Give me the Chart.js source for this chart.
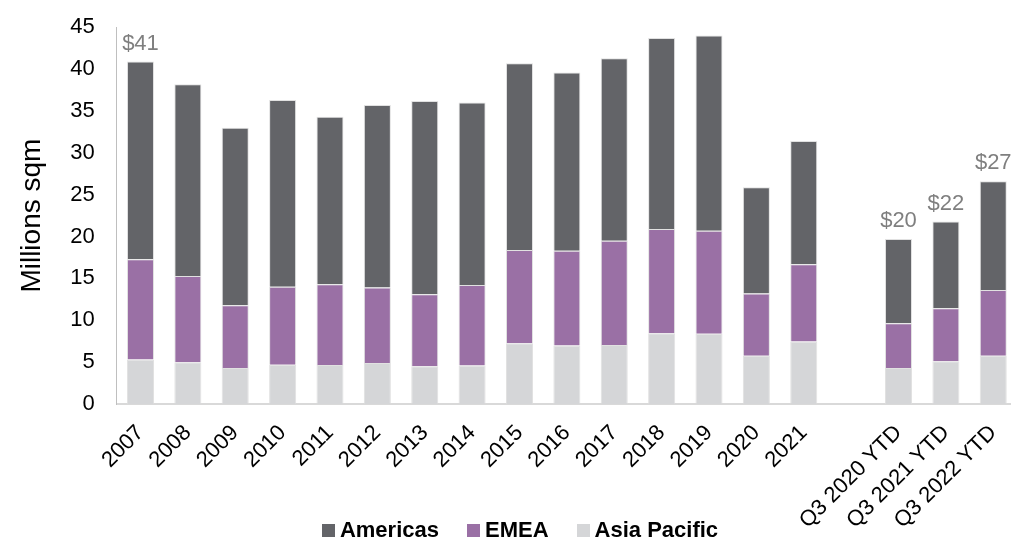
<!DOCTYPE html>
<html>
<head>
<meta charset="utf-8">
<script src="https://cdn.jsdelivr.net/npm/chart.js@4.4.1/dist/chart.umd.min.js"></script>
<style>
  html, body { margin: 0; padding: 0; background: #ffffff; overflow: hidden; }
  #wrap { position: relative; width: 1020px; height: 542px; }
  #legend {
    position: absolute; left: 0; top: 518px; width: 1040px;
    display: flex; justify-content: center; align-items: center;
    font: bold 22px "Liberation Sans", Arial, sans-serif; color: #000;
    line-height: 24px;
  }
  #legend .item { display: flex; align-items: center; margin: 0 14px; }
  #legend .box { width: 13px; height: 13px; margin-right: 5px; }
</style>
</head>
<body>
<div id="wrap">
  <canvas id="chart"></canvas>
  <div id="legend"></div>
</div>
<script>
// Leasing volume by region, millions of square metres
const categories = ['2007', '2008', '2009', '2010', '2011', '2012', '2013', '2014',
  '2015', '2016', '2017', '2018', '2019', '2020', '2021', '',
  'Q3 2020 YTD', 'Q3 2021 YTD', 'Q3 2022 YTD'];

const asiaPacific = [5.3, 5.0, 4.3, 4.7, 4.65, 4.9, 4.5, 4.6, 7.25, 7.0, 7.05, 8.45, 8.4,
  5.75, 7.45, null, 4.3, 5.1, 5.75];
const emea = [12.0, 10.3, 7.5, 9.3, 9.65, 9.0, 8.6, 9.6, 11.15, 11.3, 12.45, 12.45, 12.3,
  7.45, 9.25, null, 5.35, 6.35, 7.85];
const americas = [23.6, 22.9, 21.2, 22.3, 20.0, 21.8, 23.1, 21.8, 22.3, 21.3, 21.8, 22.8, 23.3,
  12.7, 14.7, null, 10.05, 10.35, 13.0];

// Columns that carry a total label above the stack
const labelledColumns = ['2007', 'Q3 2020 YTD', 'Q3 2021 YTD', 'Q3 2022 YTD'];

const yTicks = [0, 5, 10, 15, 20, 25, 30, 35, 40, 45];

const COLORS = { americas: '#636468', emea: '#9a70a5', asia: '#d5d6d8' };
const FONT = '"Liberation Sans", Arial, sans-serif';

const totalLabels = {
  id: 'totalLabels',
  afterDatasetsDraw(chart) {
    const ctx = chart.ctx;
    const topMeta = chart.getDatasetMeta(chart.data.datasets.length - 1);
    ctx.save();
    ctx.font = '22px ' + FONT;
    ctx.fillStyle = '#7f7f7f';
    ctx.textAlign = 'center';
    ctx.textBaseline = 'middle';
    categories.forEach((cat, i) => {
      if (!labelledColumns.includes(cat)) return;
      const total = asiaPacific[i] + emea[i] + americas[i];
      const bar = topMeta.data[i];
      ctx.fillText('$' + Math.round(total), bar.x, bar.y - 18);
    });
    ctx.restore();
  }
};

const chart = new Chart(document.getElementById('chart'), {
  type: 'bar',
  data: {
    labels: categories,
    datasets: [
      { label: 'Asia Pacific', data: asiaPacific, backgroundColor: COLORS.asia },
      { label: 'EMEA', data: emea, backgroundColor: COLORS.emea },
      { label: 'Americas', data: americas, backgroundColor: COLORS.americas }
    ].map(d => Object.assign(d, {
      borderColor: 'rgba(220,220,220,0.85)',
      borderWidth: 1,
      barPercentage: 0.57,
      categoryPercentage: 1
    }))
  },
  options: {
    responsive: true,
    maintainAspectRatio: false,
    devicePixelRatio: 1,
    animation: false,
    layout: { padding: { top: 12, right: 3, left: 0, bottom: 0 } },
    plugins: {
      legend: { display: false },
      tooltip: { enabled: false }
    },
    scales: {
      x: {
        stacked: true,
        offset: true,
        grid: { display: false },
        border: { display: true, color: '#d9d9d9', width: 2 },
        ticks: {
          autoSkip: false,
          minRotation: 45,
          maxRotation: 45,
          padding: 8,
          color: '#000',
          font: { family: FONT, size: 22 }
        },
        afterFit(scale) { scale.height = 138; }
      },
      y: {
        stacked: true,
        min: 0,
        max: 45,
        afterBuildTicks(scale) { scale.ticks = yTicks.map(v => ({ value: v })); },
        grid: { display: false },
        border: { display: true, color: '#bfbfbf', width: 1 },
        ticks: {
          padding: 14,
          color: '#000',
          font: { family: FONT, size: 22 }
        },
        title: {
          display: true,
          text: 'Millions sqm',
          color: '#000',
          font: { family: FONT, size: 28 },
          padding: { top: 15, bottom: 0 }
        },
        afterFit(scale) { scale.width = 116.8; }
      }
    }
  },
  plugins: [totalLabels]
});

// Legend listed top of stack first
const legendEl = document.getElementById('legend');
chart.data.datasets.slice().reverse().forEach(ds => {
  const item = document.createElement('div');
  item.className = 'item';
  const box = document.createElement('span');
  box.className = 'box';
  box.style.background = ds.backgroundColor;
  const text = document.createElement('span');
  text.textContent = ds.label;
  item.appendChild(box);
  item.appendChild(text);
  legendEl.appendChild(item);
});
</script>
</body>
</html>
